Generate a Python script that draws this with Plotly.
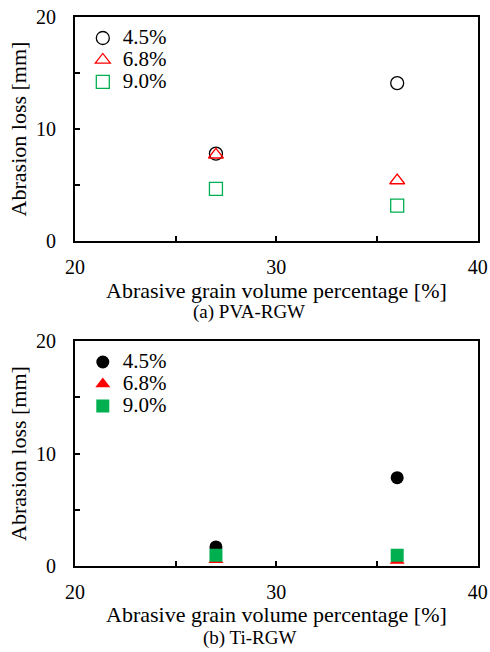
import plotly.graph_objects as go

# ---- data ----
x_vals = [27, 36]
series_names = ["4.5%", "6.8%", "9.0%"]
pva_45 = [7.8, 14.1]
pva_68 = [7.7, 5.4]
pva_90 = [4.65, 3.15]
ti_45 = [1.7, 7.85]
ti_68 = [0.55, 0.5]
ti_90 = [0.95, 0.95]
y_tickvals = [0, 5, 10, 15, 20]
y_ticktext = ["0", "", "10", "", "20"]
x_tickvals = [20, 25, 30, 35, 40]
x_ticktext = ["20", "", "30", "", "40"]
colors = ["#000000", "#FF0000", "#00B050"]
open_symbols = ["circle-open", "triangle-up-open", "square-open"]
filled_symbols = ["circle", "triangle-up", "square"]
x_title = "Abrasive grain volume percentage [%]"
y_title = "Abrasion loss [mm]"
captions = ["(a) PVA-RGW", "(b) Ti-RGW"]

FONT = "Liberation Serif"
H = 652


def leg_name(n):
    return '<span style="font-size:21px">' + n + "</span>"


fig = go.Figure()
for name, ys, c, s in zip(series_names, [pva_45, pva_68, pva_90], colors, open_symbols):
    fig.add_trace(go.Scatter(x=x_vals, y=ys, mode="markers", name=leg_name(name),
                             marker=dict(symbol=s, size=13, color=c, line=dict(width=1.3, color=c)),
                             xaxis="x", yaxis="y", legend="legend"))
for name, ys, c, s in zip(series_names, [ti_45, ti_68, ti_90], colors, filled_symbols):
    fig.add_trace(go.Scatter(x=x_vals, y=ys, mode="markers", name=leg_name(name),
                             marker=dict(symbol=s, size=13, color=c, line=dict(width=0)),
                             xaxis="x2", yaxis="y2", legend="legend2"))

axis_common = dict(showgrid=False, zeroline=False, showline=True, linecolor="black",
                   linewidth=2, mirror=True, ticks="inside", ticklen=5, tickwidth=1.5,
                   tickcolor="black", tickfont=dict(family=FONT, size=20, color="black"),
                   automargin=False)

title_font = dict(family=FONT, size=22, color="black")
cap_font = dict(family=FONT, size=19, color="black")
xdom = [0.153, 0.975]


def note(text, x, ypx, font):
    return dict(text=text, x=x, y=1 - ypx / H, xref="paper", yref="paper",
                xanchor="center", yanchor="middle", showarrow=False, font=font)


fig.update_layout(
    width=490, height=H, margin=dict(l=0, r=0, t=0, b=0, autoexpand=False),
    paper_bgcolor="white", plot_bgcolor="white",
    font=dict(family=FONT, color="black"),
    xaxis=dict(domain=xdom, anchor="y", range=[20, 40], tickvals=x_tickvals, ticktext=x_ticktext,
               ticklabelstandoff=7, **axis_common),
    yaxis=dict(domain=[1 - 241 / H, 1 - 17 / H], anchor="x", range=[0, 20], tickvals=y_tickvals,
               ticktext=y_ticktext, ticklabelstandoff=13,
               title=dict(text=y_title, font=title_font, standoff=3), **axis_common),
    xaxis2=dict(domain=xdom, anchor="y2", range=[20, 40], tickvals=x_tickvals, ticktext=x_ticktext,
                ticklabelstandoff=7, **axis_common),
    yaxis2=dict(domain=[1 - 566 / H, 1 - 341 / H], anchor="x2", range=[0, 20], tickvals=y_tickvals,
                ticktext=y_ticktext, ticklabelstandoff=13,
                title=dict(text=y_title, font=title_font, standoff=3), **axis_common),
    legend=dict(x=0.169, y=1 - 22 / H, xanchor="left", yanchor="top", bgcolor="rgba(0,0,0,0)",
                font=dict(family=FONT, size=14.6, color="black"), itemwidth=30, tracegroupgap=0),
    legend2=dict(x=0.169, y=1 - 346 / H, xanchor="left", yanchor="top", bgcolor="rgba(0,0,0,0)",
                 font=dict(family=FONT, size=14.6, color="black"), itemwidth=30, tracegroupgap=0),
    showlegend=True,
    annotations=[
        note(x_title, 0.564, 290, title_font),
        note(captions[0], 0.508, 312, cap_font),
        note(x_title, 0.564, 614, title_font),
        note(captions[1], 0.51, 638, cap_font),
    ],
)

fig.write_html("out.html")
